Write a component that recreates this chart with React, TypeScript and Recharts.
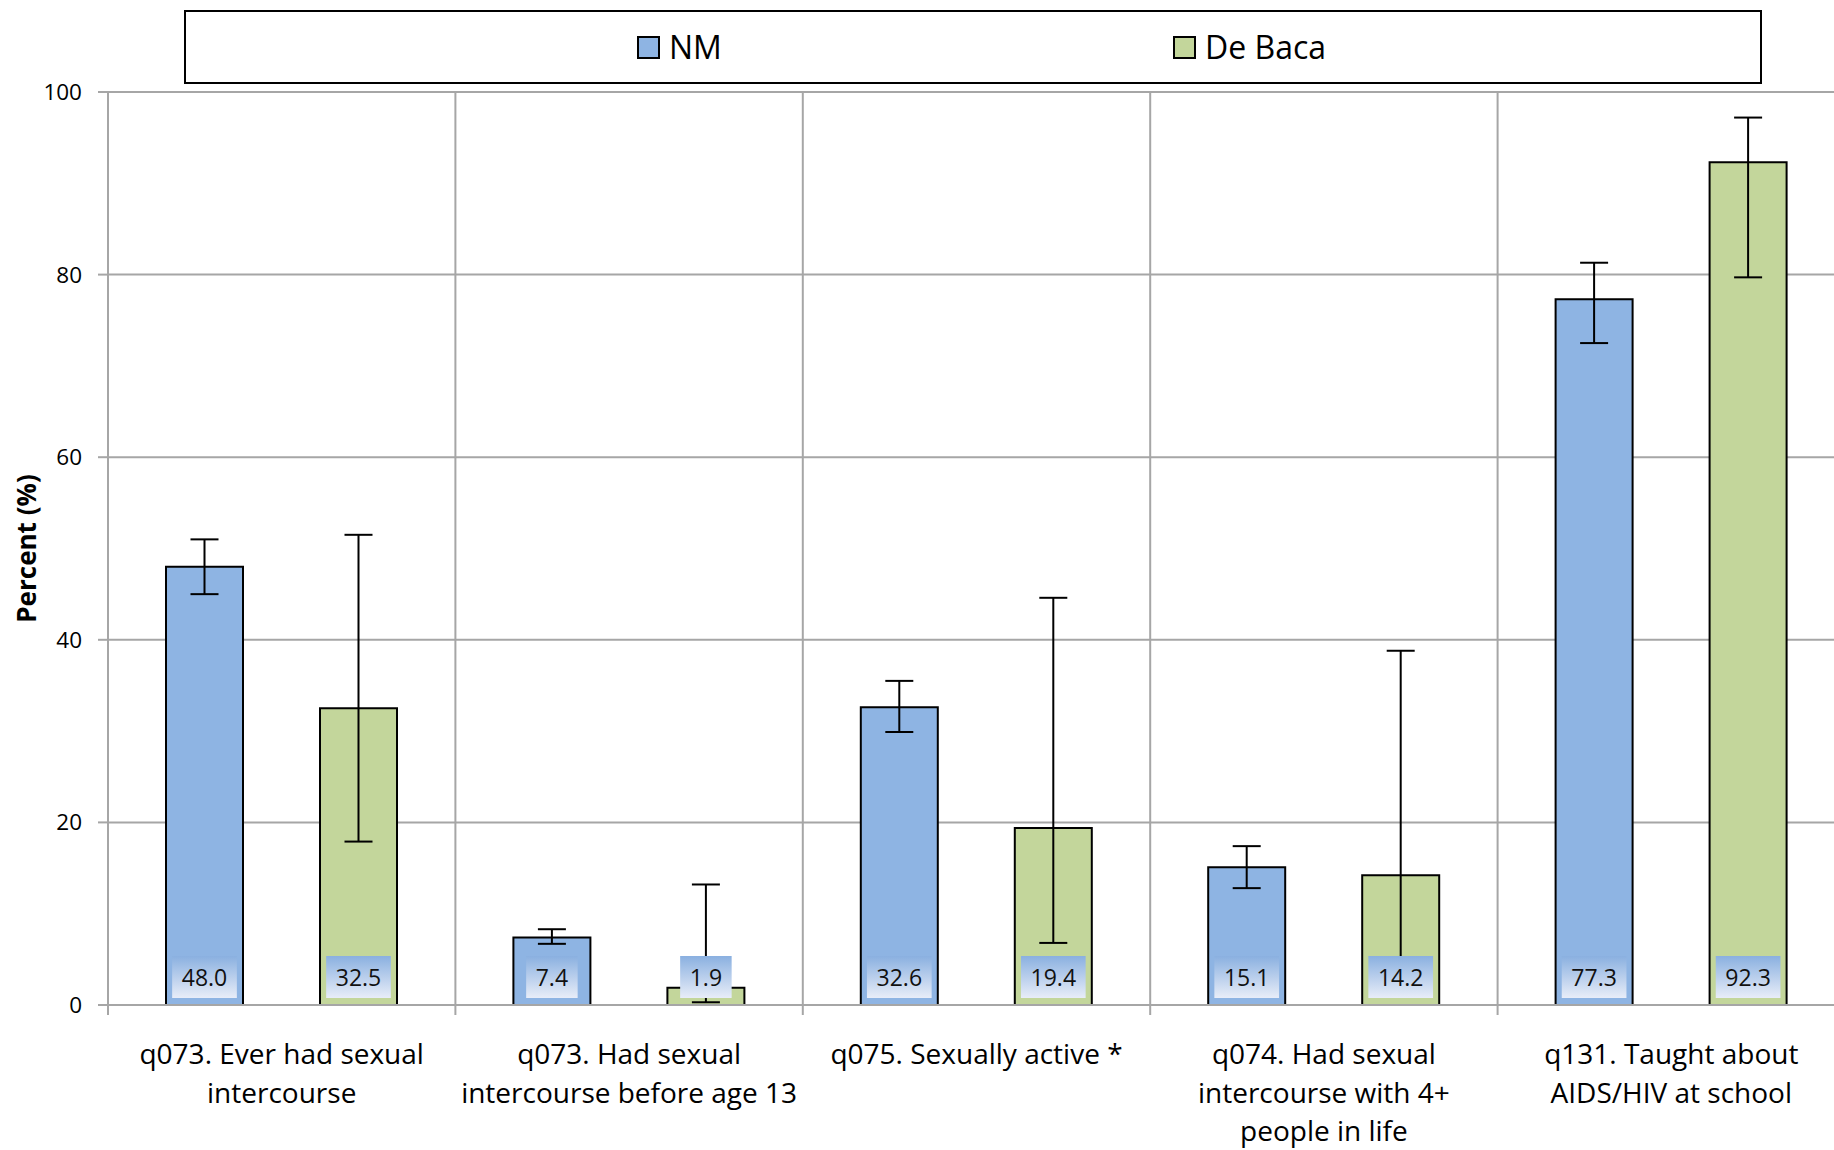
import React from 'react';
import { BarChart, Bar, XAxis, YAxis, CartesianGrid, ErrorBar, LabelList, Legend } from 'recharts';

const categories = [
  'q073. Ever had sexual intercourse',
  'q073. Had sexual intercourse before age 13',
  'q075. Sexually active *',
  'q074. Had sexual intercourse with 4+ people in life',
  'q131. Taught about AIDS/HIV at school',
];
const categoryLines = [
  ['q073. Ever had sexual', 'intercourse'],
  ['q073. Had sexual', 'intercourse before age 13'],
  ['q075. Sexually active *'],
  ['q074. Had sexual', 'intercourse with 4+', 'people in life'],
  ['q131. Taught about', 'AIDS/HIV at school'],
];
const seriesNames = ['NM', 'De Baca'];
const nmValues = [48.0, 7.4, 32.6, 15.1, 77.3];
const nmLow = [45.0, 6.7, 29.9, 12.8, 72.5];
const nmHigh = [51.0, 8.3, 35.5, 17.4, 81.3];
const dbValues = [32.5, 1.9, 19.4, 14.2, 92.3];
const dbLow = [17.9, 0.3, 6.8, 4.5, 79.7];
const dbHigh = [51.5, 13.2, 44.6, 38.8, 97.2];
const yTicks = [0, 20, 40, 60, 80, 100];

const data = categories.map((c, i) => ({
  category: c,
  nm: nmValues[i],
  db: dbValues[i],
  nmErr: [nmValues[i] - nmLow[i], nmHigh[i] - nmValues[i]],
  dbErr: [dbValues[i] - dbLow[i], dbHigh[i] - dbValues[i]],
}));

const FONT = '"Open Sans", "Noto Sans", sans-serif';
const GRID = '#A6A6A6';
const NM_COLOR = '#8EB4E3';
const DB_COLOR = '#C3D69B';

function CategoryTick(props: any) {
  const { x, y, payload } = props;
  const idx = categories.indexOf(payload.value);
  const lines = categoryLines[idx] || [];
  const half = payload.offset ?? 0;
  return (
    <g>
      <line x1={x - half} y1={y} x2={x - half} y2={y + 10} stroke={GRID} strokeWidth={2} />
      {idx === categories.length - 1 && (
        <line x1={x + half} y1={y} x2={x + half} y2={y + 10} stroke={GRID} strokeWidth={2} />
      )}
      {lines.map((l, i) => (
        <text key={i} x={x} y={y + 59 + i * 38.6} textAnchor="middle" fontFamily={FONT} fontSize={28} fill="#000">
          {l}
        </text>
      ))}
    </g>
  );
}

function ValueBox(props: any) {
  const { x, y, width, height, value } = props;
  const cx = x + width / 2;
  const bottom = y + height;
  const txt = Number(value).toFixed(1);
  let tw = 0;
  for (const ch of txt) tw += ch === '.' ? 6.1 : 13.2;
  const bw = tw + 19;
  return (
    <g>
      <defs>
        <linearGradient id="lblGrad" x1="0" y1="0" x2="0" y2="1">
          <stop offset="0" stopColor="#8AB0E0" />
          <stop offset="1" stopColor="#E8EDF8" />
        </linearGradient>
      </defs>
      <rect x={cx - bw / 2} y={bottom - 49} width={bw} height={42} fill="url(#lblGrad)" />
      <text x={cx} y={bottom - 28} textAnchor="middle" dominantBaseline="central" fontFamily={FONT} fontSize={23} fill="#111">
        {txt}
      </text>
    </g>
  );
}

function LegendContent(props: any) {
  const payload = [...(props.payload || [])].sort(
    (a: any, b: any) => seriesNames.indexOf(a.value) - seriesNames.indexOf(b.value)
  );
  const pos = [451, 987];
  return (
    <div style={{ position: 'relative', width: 1578, height: 74, boxSizing: 'border-box', border: '2px solid #000', background: '#fff', fontFamily: FONT }}>
      {payload.map((p: any, i: number) => (
        <div key={i} style={{ position: 'absolute', left: pos[i], top: 0, height: 70, display: 'flex', alignItems: 'center' }}>
          <span style={{ display: 'inline-block', width: 19, height: 19, background: p.color, border: '2px solid #000', marginRight: 9 }} />
          <span style={{ fontSize: 32, color: '#000', lineHeight: '70px' }}>{p.value}</span>
        </div>
      ))}
    </div>
  );
}

function YTitle(props: any) {
  const vb = props.viewBox || { x: 0, y: 0, width: 0, height: 0 };
  const cx = 26;
  const cy = vb.y + vb.height / 2;
  return (
    <text x={cx} y={cy} transform={`rotate(-90 ${cx} ${cy})`} textAnchor="middle" dominantBaseline="central" fontFamily={FONT} fontWeight="bold" fontSize={26} fill="#000">
      Percent (%)
    </text>
  );
}

export default function App() {
  return (
    <div style={{ position: 'absolute', left: 0, top: 0, width: 1834, height: 1150, overflow: 'hidden', background: '#fff' }}>
      <BarChart
        width={1845}
        height={1150}
        data={data}
        margin={{ top: 92, right: 0, bottom: 0, left: 0 }}
        barSize={77}
        barGap={77}
      >
        <CartesianGrid
          stroke={GRID}
          strokeWidth={2}
          verticalCoordinatesGenerator={({ offset }: any) =>
            categories.map((_, i) => offset.left + (offset.width * i) / categories.length).concat([offset.left + offset.width])
          }
        />
        <XAxis
          dataKey="category"
          height={145}
          interval={0}
          tickLine={false}
          tickSize={0}
          tickMargin={0}
          axisLine={{ stroke: GRID, strokeWidth: 2 }}
          tick={<CategoryTick />}
        />
        <YAxis
          width={108}
          domain={[0, 100]}
          ticks={yTicks}
          tickSize={10}
          tickMargin={16}
          axisLine={{ stroke: GRID, strokeWidth: 2 }}
          tickLine={{ stroke: GRID, strokeWidth: 2 }}
          tick={{ fontFamily: FONT, fontSize: 22.5, fill: '#000' }}
          label={<YTitle />}
        />
        <Legend layout="horizontal" verticalAlign="middle" align="center" wrapperStyle={{ left: 184, top: 10, width: 1578, height: 74 }} content={<LegendContent />} />
        <Bar dataKey="nm" name="NM" fill={NM_COLOR} stroke="#000" strokeWidth={2} isAnimationActive={false}>
          <ErrorBar dataKey="nmErr" width={14} stroke="#000" strokeWidth={2} direction="y" />
          <LabelList dataKey="nm" content={<ValueBox />} />
        </Bar>
        <Bar dataKey="db" name="De Baca" fill={DB_COLOR} stroke="#000" strokeWidth={2} isAnimationActive={false}>
          <ErrorBar dataKey="dbErr" width={14} stroke="#000" strokeWidth={2} direction="y" />
          <LabelList dataKey="db" content={<ValueBox />} />
        </Bar>
      </BarChart>
    </div>
  );
}
